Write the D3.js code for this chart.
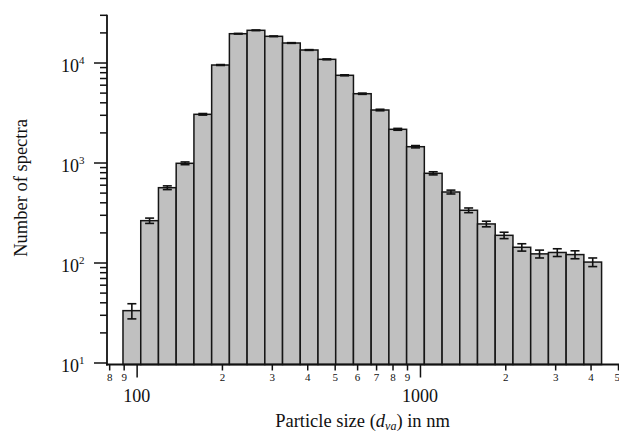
<!DOCTYPE html>
<html>
<head>
<meta charset="utf-8">
<script src="https://cdn.jsdelivr.net/npm/d3@7"></script>
<style>
  body { margin: 0; background: #fff; }
  text { font-family: "Liberation Serif", "DejaVu Serif", serif; fill: #111; }
</style>
</head>
<body>
<div id="chart"></div>
<script>
// Bin edges (nm), counts per bin and error half-widths
const binEdges = [89.5, 103.4, 119.4, 137.9, 159.3, 184.0, 212.5, 245.4, 283.4, 327.3,
    378.0, 436.6, 504.2, 582.4, 672.6, 776.8, 897.2, 1036, 1197, 1382,
    1596, 1843, 2129, 2459, 2840, 3280, 3788, 4375];
const counts = [33, 262, 560, 982, 3034, 9440, 19410, 20990, 18280, 15670,
    13340, 10760, 7450, 4875, 3350, 2148, 1439, 780, 507, 333,
    243, 187, 142, 122, 126, 120, 101];
const errors = [5.7, 16, 24, 31, 55, 97, 139, 145, 135, 125,
    115, 104, 86, 70, 58, 46, 38, 28, 22.5, 18,
    15.6, 13.7, 12, 11, 11.2, 11, 10];

// tick values
const xMinorTicks = [80, 90, 200, 300, 400, 500, 600, 700, 800, 900, 2000, 3000, 4000, 5000];
const xMajorTicks = [100, 1000];
const yMajorTicks = [10, 100, 1000, 10000];
const yMinorTicks = [20, 30, 40, 50, 60, 70, 80, 90, 200, 300, 400, 500, 600, 700, 800, 900,
    2000, 3000, 4000, 5000, 6000, 7000, 8000, 9000, 20000, 30000];

const width = 619, height = 433;
const plotLeft = 107, plotRight = 619;
const axisY = 364.5;

const x = d3.scaleLog()
    .domain([78.6, 5040])
    .range([plotLeft, plotRight]);
const y = d3.scaleLog()
    .domain([10, 30000])
    .range([362.5, 14.8]);

const svg = d3.select("#chart")
    .append("svg")
    .attr("width", width)
    .attr("height", height);

const bins = counts.map(function(c, i) {
    return { x0: binEdges[i], x1: binEdges[i + 1], n: c, err: errors[i] };
});

// bars
svg.selectAll(".bar")
    .data(bins)
    .enter().append("rect")
    .attr("class", "bar")
    .attr("x", function(d) { return x(d.x0); })
    .attr("width", function(d) { return x(d.x1) - x(d.x0); })
    .attr("y", function(d) { return y(d.n); })
    .attr("height", function(d) { return axisY - y(d.n); })
    .attr("fill", "#c0c0c0")
    .attr("stroke", "#151515")
    .attr("stroke-width", 1.5);

// error bars
const eb = svg.selectAll(".err")
    .data(bins)
    .enter().append("g")
    .attr("class", "err")
    .attr("stroke", "#111")
    .attr("stroke-width", 1.6);
function cx(d) { return (x(d.x0) + x(d.x1)) / 2; }
eb.append("line")
    .attr("x1", cx).attr("x2", cx)
    .attr("y1", function(d) { return y(d.n - d.err); })
    .attr("y2", function(d) { return y(d.n + d.err); });
eb.append("line")
    .attr("x1", function(d) { return cx(d) - 4.5; })
    .attr("x2", function(d) { return cx(d) + 4.5; })
    .attr("y1", function(d) { return y(d.n + d.err); })
    .attr("y2", function(d) { return y(d.n + d.err); });
eb.append("line")
    .attr("x1", function(d) { return cx(d) - 4.5; })
    .attr("x2", function(d) { return cx(d) + 4.5; })
    .attr("y1", function(d) { return y(d.n - d.err); })
    .attr("y2", function(d) { return y(d.n - d.err); });

// y axis: minor and major ticks
const yMinor = svg.append("g")
    .attr("transform", "translate(" + plotLeft + ",0)")
    .call(d3.axisLeft(y).tickValues(yMinorTicks).tickSize(7).tickFormat(""));
const yMajor = svg.append("g")
    .attr("transform", "translate(" + plotLeft + ",0)")
    .call(d3.axisLeft(y).tickValues(yMajorTicks).tickSize(13).tickFormat(""));

// x axis: minor and major ticks
const xMinor = svg.append("g")
    .attr("transform", "translate(0," + axisY + ")")
    .call(d3.axisBottom(x).tickValues(xMinorTicks).tickSize(6).tickPadding(3)
        .tickFormat(function(d) { return String(d).charAt(0); }));
const xMajor = svg.append("g")
    .attr("transform", "translate(0," + axisY + ")")
    .call(d3.axisBottom(x).tickValues(xMajorTicks).tickSize(13).tickFormat(""));

[yMinor, yMajor, xMinor, xMajor].forEach(function(g) {
    g.select(".domain").remove();
    g.selectAll(".tick line").attr("stroke", "#111").attr("stroke-width", 1.5);
});
xMinor.selectAll(".tick text")
    .style("font-size", "11px")
    .style("font-family", "Liberation Serif, serif")
    .attr("fill", "#111");
// last label sits on the right edge; keep it inside the picture
xMinor.selectAll(".tick text")
    .filter(function(d) { return d === 5000; })
    .attr("text-anchor", "end")
    .attr("x", 1.5);

// axis lines
svg.append("line")
    .attr("x1", plotLeft).attr("x2", plotLeft)
    .attr("y1", y(30000)).attr("y2", axisY + 1)
    .attr("stroke", "#111").attr("stroke-width", 1.8);
svg.append("line")
    .attr("x1", plotLeft - 1).attr("x2", plotRight)
    .attr("y1", axisY).attr("y2", axisY)
    .attr("stroke", "#111").attr("stroke-width", 1.8);

// major x labels
svg.selectAll(".xmaj")
    .data(xMajorTicks)
    .enter().append("text")
    .attr("class", "xmaj")
    .attr("x", function(d) { return x(d); })
    .attr("y", 401.5)
    .attr("text-anchor", "middle")
    .style("font-size", "18px")
    .text(function(d) { return d; });

// major y labels as 10^n
const ylab = svg.selectAll(".ymaj")
    .data(yMajorTicks)
    .enter().append("text")
    .attr("class", "ymaj")
    .attr("x", 61)
    .attr("y", function(d) { return y(d) + 9.5; })
    .style("font-size", "18px");
ylab.append("tspan").text("10");
ylab.append("tspan")
    .attr("dy", -8)
    .style("font-size", "11px")
    .text(function(d) { return Math.round(Math.log10(d)); });

// axis titles
svg.append("text")
    .attr("transform", "translate(27,188) rotate(-90)")
    .attr("text-anchor", "middle")
    .style("font-size", "18.5px")
    .text("Number of spectra");

const xt = svg.append("text")
    .attr("x", 362.5)
    .attr("y", 427)
    .attr("text-anchor", "middle")
    .style("font-size", "18.5px");
xt.append("tspan").text("Particle size (");
xt.append("tspan").style("font-style", "italic").text("d");
xt.append("tspan").style("font-style", "italic").style("font-size", "12px")
    .attr("dy", 3).text("va");
xt.append("tspan").attr("dy", -3).text(") in nm");
</script>
</body>
</html>
